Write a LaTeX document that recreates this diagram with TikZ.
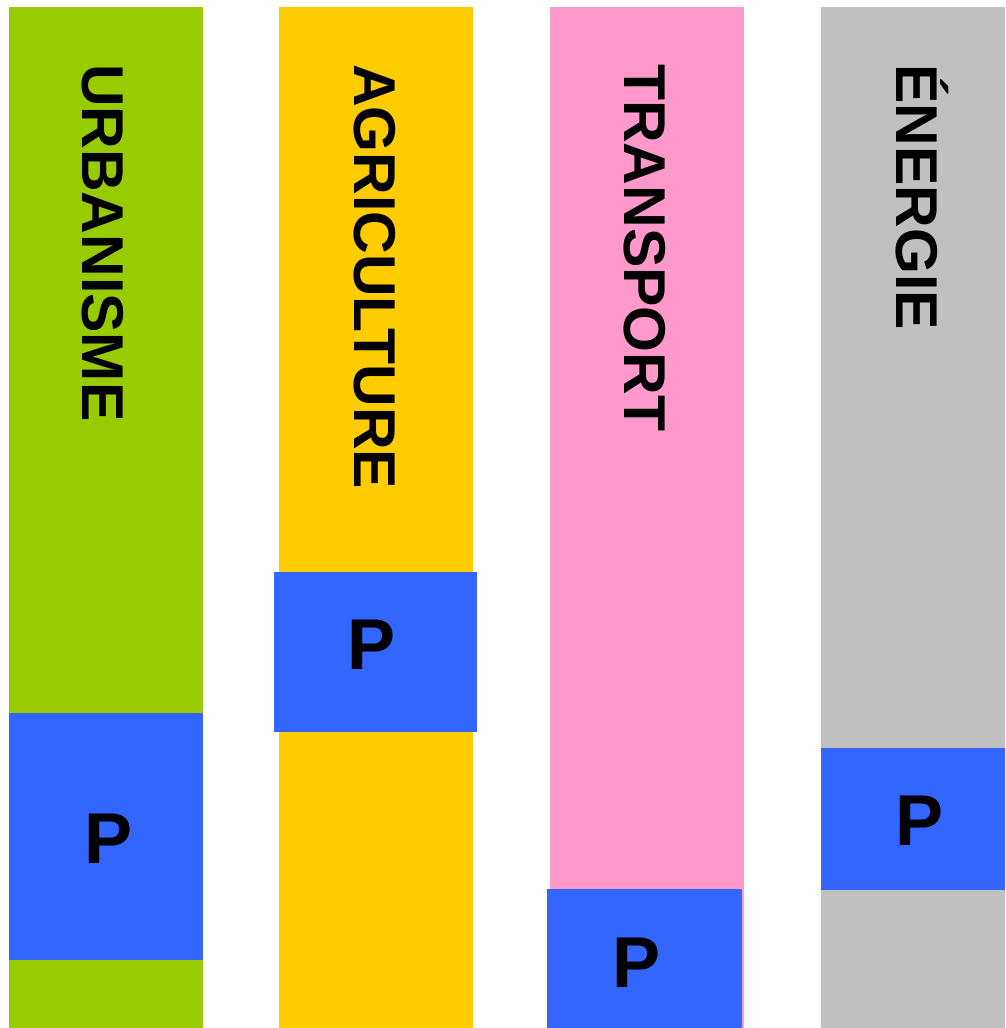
\documentclass[tikz,border=0pt]{standalone}
\usepackage{fontspec}
\setmainfont{Liberation Sans}
\definecolor{cgreen}{HTML}{99CC00}
\definecolor{cyellow}{HTML}{FFCC00}
\definecolor{cpink}{HTML}{FF99CC}
\definecolor{cgray}{HTML}{C0C0C0}
\definecolor{cblue}{HTML}{3366FF}
\tikzset{
  vlabel/.style={rotate=-90, anchor=base west, inner sep=0pt, font=\bfseries\fontsize{59}{61}\selectfont},
  plabel/.style={anchor=base, inner sep=0pt, font=\bfseries\fontsize{72}{74}\selectfont}
}
\begin{document}
\begin{tikzpicture}[x=1pt,y=-1pt]
\useasboundingbox (0,0) rectangle (1005,1028);
% columns
\fill[cgreen]  (9,7)   rectangle (203,1028);
\fill[cyellow] (279,7) rectangle (473,1028);
\fill[cpink]   (550,7) rectangle (744,1028);
\fill[cgray]   (821,7) rectangle (1005,1028);
% blue boxes
\fill[cblue] (9,713)   rectangle (203,960);
\fill[cblue] (274,572) rectangle (477,732);
\fill[cblue] (547,889) rectangle (742,1028);
\fill[cblue] (821,748) rectangle (1005,890);
% vertical titles
\node[vlabel] (urb) at (82,64)  {URBANISME};
\node[vlabel] (agr) at (354,64) {AGRICULTURE};
\node[vlabel] (tra) at (624,64) {TRANSPORT};
\node[vlabel] (ene) at (896,64) {ÉNERGIE};
% P labels
\node[plabel] (p1) at (108.5,863) {P};
\node[plabel] (p2) at (372,669)   {P};
\node[plabel] (p3) at (637,987)   {P};
\node[plabel] (p4) at (919.5,845) {P};
\end{tikzpicture}
\end{document}
